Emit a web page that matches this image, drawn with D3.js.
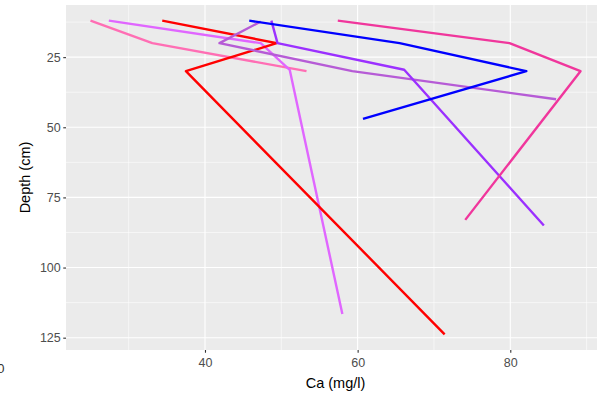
<!DOCTYPE html>
<html><head><meta charset="utf-8">
<script src="https://cdn.jsdelivr.net/npm/d3@7"></script>
<style>body{margin:0;background:#fff;} svg{display:block;font-family:"Liberation Sans",Arial,sans-serif;}</style>
</head><body>
<svg id="c" width="597" height="401"></svg>
<script>
// Data: each profile = Ca (mg/l) vs depth (cm)
const profileNames = ["P1","P2","P3","P4","P5","P6","P7"];
const profileColors = ["#FF6EB4","#E066FF","#FF0000","#B65BD6","#9B30FF","#0000FF","#F0369C"];
const caP1 = [25.0, 33.1, 53.3];          const depthP1 = [12, 20, 30];
const caP2 = [27.4, 47.3, 51.1, 58.0];    const depthP2 = [12, 20, 29.5, 116.6];
const caP3 = [34.4, 49.4, 37.5, 71.4];    const depthP3 = [12, 20, 30, 123.8];
const caP4 = [47.3, 41.9, 59.3, 86.0];    const depthP4 = [12.3, 20, 30, 40];
const caP5 = [48.7, 49.5, 66.1, 84.4];    const depthP5 = [12, 20, 29.5, 85];
const caP6 = [45.8, 65.5, 82.1, 60.7];    const depthP6 = [12, 20, 30, 47];
const caP7 = [57.4, 79.9, 89.2, 74.1];    const depthP7 = [12, 20, 30, 83];
const caSeries = [caP1, caP2, caP3, caP4, caP5, caP6, caP7];
const depthSeries = [depthP1, depthP2, depthP3, depthP4, depthP5, depthP6, depthP7];
const xTicks = [40, 60, 80];
const yTicks = [25, 50, 75, 100, 125];

const svg = d3.select("#c");
const L = 66, R = 605, T = 5, B = 350;
const allCa = caSeries.flat(), allD = depthSeries.flat();
const expand = (e) => { const r = e[1]-e[0]; return [e[0]-0.05*r, e[1]+0.05*r]; };
const x = d3.scaleLinear().domain(expand(d3.extent(allCa))).range([L, R]);
const y = d3.scaleLinear().domain(expand(d3.extent(allD))).range([T, B]);

svg.append("defs").append("clipPath").attr("id","clip").append("rect")
  .attr("x",L).attr("y",T).attr("width",R-L).attr("height",B-T);

svg.append("rect").attr("x",L).attr("y",T).attr("width",R-L).attr("height",B-T).attr("fill","#EBEBEB");

const g = svg.append("g").attr("clip-path","url(#clip)");
// minor grid
const xMinor = d3.range(30, 100, 20), yMinor = d3.range(12.5, 140, 25);
g.selectAll(".xm").data(xMinor).join("line").attr("x1",d=>x(d)).attr("x2",d=>x(d)).attr("y1",T).attr("y2",B)
  .attr("stroke","#fff").attr("stroke-width",0.55);
g.selectAll(".ym").data(yMinor).join("line").attr("y1",d=>y(d)).attr("y2",d=>y(d)).attr("x1",L).attr("x2",R)
  .attr("stroke","#fff").attr("stroke-width",0.55);
// major grid
g.selectAll(".xg").data(xTicks).join("line").attr("x1",d=>x(d)).attr("x2",d=>x(d)).attr("y1",T).attr("y2",B)
  .attr("stroke","#fff").attr("stroke-width",1.1);
g.selectAll(".yg").data(yTicks).join("line").attr("y1",d=>y(d)).attr("y2",d=>y(d)).attr("x1",L).attr("x2",R)
  .attr("stroke","#fff").attr("stroke-width",1.1);

const line = d3.line().x(d=>x(d[0])).y(d=>y(d[1]));
caSeries.forEach((cs, i) => {
  const pts = cs.map((c, j) => [c, depthSeries[i][j]]);
  g.append("path").datum(pts).attr("d", line).attr("fill","none")
    .attr("stroke", profileColors[i]).attr("stroke-width", 2.4)
    .attr("stroke-linejoin","round").attr("stroke-linecap","butt");
});

// axes
const xAxis = d3.axisBottom(x).tickValues(xTicks).tickSize(2.75).tickPadding(2.5);
const yAxis = d3.axisLeft(y).tickValues(yTicks).tickSize(2.75).tickPadding(2.5);
const gx = svg.append("g").attr("transform",`translate(0,${B})`).call(xAxis);
const gy = svg.append("g").attr("transform",`translate(${L},0)`).call(yAxis);
[gx, gy].forEach(a => {
  a.select(".domain").remove();
  a.selectAll(".tick line").attr("stroke","#333").attr("stroke-width",1.1);
  a.selectAll(".tick text").attr("fill","#4D4D4D").style("font-size","12.5px").style("font-family","Liberation Sans, Arial, sans-serif");
});
gx.selectAll(".tick text").attr("dy","0.9em");

svg.append("text").attr("x",(L+R)/2).attr("y",388).attr("text-anchor","middle")
  .style("font-size","14.5px").attr("fill","#000").text("Ca (mg/l)");
svg.append("text").attr("transform",`translate(30,${(T+B)/2}) rotate(-90)`).attr("text-anchor","middle")
  .style("font-size","14.5px").attr("fill","#000").text("Depth (cm)");
svg.append("text").attr("x",4.5).attr("y",373).attr("text-anchor","end")
  .style("font-size","13px").attr("fill","#333").text("0");
</script>
</body></html>
